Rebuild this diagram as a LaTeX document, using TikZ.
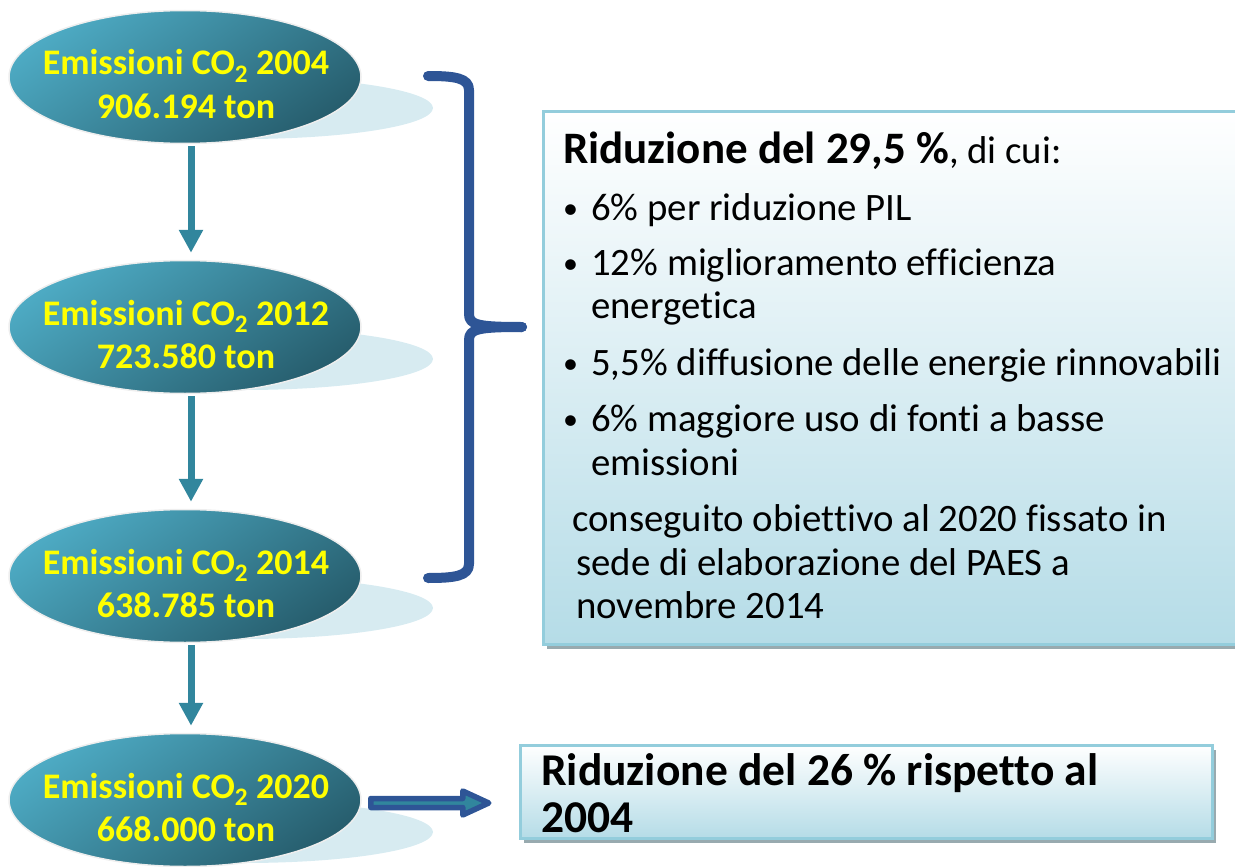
\documentclass[tikz,border=0pt]{standalone}
\usepackage{fontspec}
\setmainfont{Carlito}[Ligatures={NoCommon}]
\usetikzlibrary{arrows.meta,shapes.geometric,calc,shadows}
\definecolor{eTop}{HTML}{4DAAC3}
\definecolor{eBot}{HTML}{275E6E}
\definecolor{shadowC}{HTML}{D7EBF1}
\definecolor{arrowC}{HTML}{31869D}
\definecolor{braceC}{HTML}{2E5596}
\definecolor{boxLine}{HTML}{93CDDC}
\definecolor{boxBot}{HTML}{B5DCE7}
\definecolor{boxShadow}{HTML}{98AAAF}
\definecolor{yel}{HTML}{FFFF00}
\definecolor{ringC}{HTML}{EEEEEE}
\newcommand{\bul}{\makebox[28pt][l]{\raisebox{2pt}{\fontsize{30}{30}\selectfont•}}}
\begin{document}
\begin{tikzpicture}[x=1pt,y=-1pt,
  emis/.style={ellipse, minimum width=352pt, minimum height=133pt, inner sep=0pt,
    draw=ringC, line width=1.5pt, top color=eTop, bottom color=eBot, shading angle=35},
  emshadow/.style={ellipse, minimum width=378pt, minimum height=62pt, inner sep=0pt, fill=shadowC},
  etext/.style={font=\fontsize{36}{43}\selectfont\bfseries, text=yel, anchor=base, inner sep=0pt},
  flow/.style={draw=arrowC, line width=7pt, -{Triangle[width=23pt,length=23pt]}},
  brace/.style={draw=braceC, line width=10pt, line cap=round, line join=round},
  infobox/.style={rectangle, draw=boxLine, line width=3pt, top color=white, bottom color=boxBot,
    drop shadow={shadow xshift=4pt, shadow yshift=-5pt, opacity=1, fill=boxShadow}, inner sep=0pt},
  btext/.style={font=\fontsize{38.8}{44}\selectfont, anchor=base west, inner sep=0pt},
  bhead/.style={font=\fontsize{45}{50}\selectfont\bfseries, anchor=base west, inner sep=0pt},
  bhead2/.style={font=\fontsize{45.5}{50}\selectfont\bfseries, anchor=base west, inner sep=0pt},
  blockarrow/.style={draw=braceC, line width=5.5pt, line join=round, fill=arrowC}
]
\useasboundingbox (0,0) rectangle (1235,867);

% shadows of ellipses
\node[emshadow] (s1) at (244,108) {};
\node[emshadow] (s2) at (244,359) {};
\node[emshadow] (s3) at (244,608) {};
\node[emshadow] (s4) at (244,832) {};

% ellipses
\node[emis] (e1) at (185,77) {};
\node[emis] (e2) at (185,327) {};
\node[emis] (e3) at (185,576) {};
\node[emis] (e4) at (185,800) {};

\node[etext] (t1a) at (186,75) {Emissioni CO\textsubscript{2} 2004};
\node[etext] (t1b) at (186,118) {906.194 ton};
\node[etext] (t2a) at (186,325) {Emissioni CO\textsubscript{2} 2012};
\node[etext] (t2b) at (186,368) {723.580 ton};
\node[etext] (t3a) at (186,574) {Emissioni CO\textsubscript{2} 2014};
\node[etext] (t3b) at (186,617) {638.785 ton};
\node[etext] (t4a) at (186,798) {Emissioni CO\textsubscript{2} 2020};
\node[etext] (t4b) at (186,841) {668.000 ton};

% vertical arrows
\draw[flow] ($(e1.south)+(6,2)$) -- ($(e2.north)+(6,-7)$);
\draw[flow] ($(e2.south)+(6,2)$) -- ($(e3.north)+(6,-7)$);
\draw[flow] ($(e3.south)+(6,2)$) -- ($(e4.north)+(6,-7)$);

% big box
\node[infobox, minimum width=700pt, minimum height=533pt] (b1) at (893,377.5) {};
\node[bhead] (h1) at (563,163) {Riduzione del 29,5 \%\mdseries\fontsize{38.8}{44}\selectfont, di cui:};
\node[btext] (l1) at (563,220) {\bul 6\% per riduzione PIL};
\node[btext] (l2) at (563,275) {\bul 12\% miglioramento efficienza};
\node[btext] (l3) at (591,318) {energetica};
\node[btext] (l4) at (563,375) {\bul 5,5\% diffusione delle energie rinnovabili};
\node[btext] (l5) at (563,431) {\bul 6\% maggiore uso di fonti a basse};
\node[btext] (l6) at (591,475) {emissioni};
\node[btext] (l7) at (572,531) {conseguito obiettivo al 2020 fissato in};
\node[btext] (l8) at (576,575) {sede di elaborazione del PAES a};
\node[btext] (l9) at (576,618) {novembre 2014};

% brace
\coordinate (bt) at (428,76);
\coordinate (bm) at (522,327);
\coordinate (bb) at (428,578);
\draw[brace] (bt) .. controls (455,76) and (469,78) .. (469,90) -- (469,314)
  .. controls (469,325) and (478,327) .. (bm);
\draw[brace] (bm) .. controls (478,327) and (469,329) .. (469,340) -- (469,564)
  .. controls (469,576) and (455,578) .. (bb);

% small box
\node[infobox, minimum width=692pt, minimum height=93pt] (b2) at (866,791.5) {};
\node[bhead2] (r1) at (541,785) {Riduzione del 26 \% rispetto al};
\node[bhead2] (r2) at (541,832) {2004};

% block arrow
\coordinate (a0) at ($(e4.east)+(9,3)$);
\draw[blockarrow] ($(a0)+(0,-4.5)$) -- ++(92,0) -- ++(0,-7.5) -- ++(26,12) -- ++(-26,12)
  -- ++(0,-7.5) -- ($(a0)+(0,4.5)$) -- cycle;
\end{tikzpicture}
\end{document}
